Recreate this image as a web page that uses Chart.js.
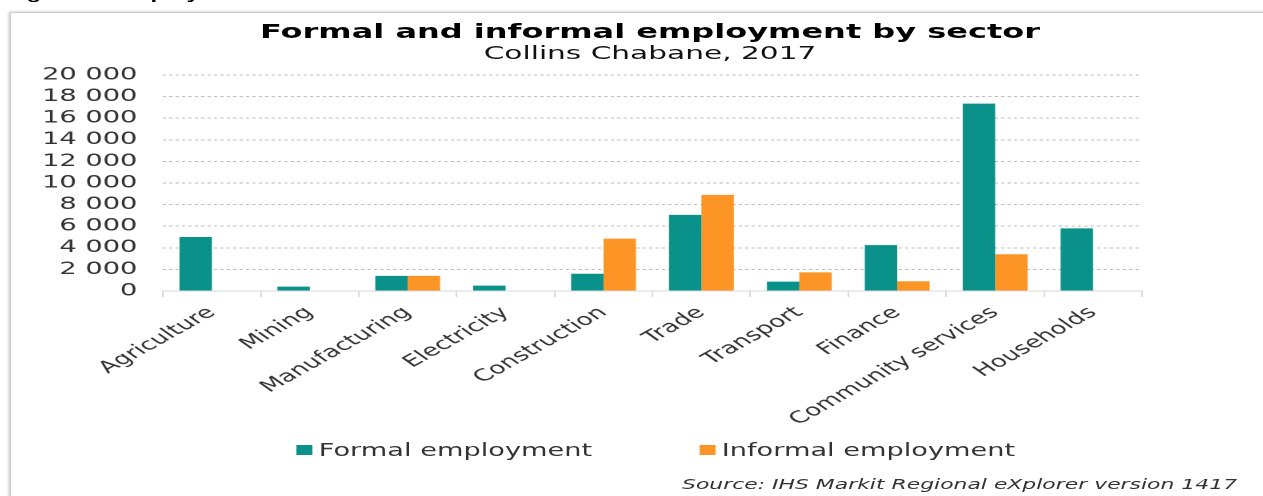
<!DOCTYPE html>
<html>
<head>
<meta charset="utf-8">
<title>Formal and informal employment by sector</title>
<script src="https://cdn.jsdelivr.net/npm/chart.js@4.4.1/dist/chart.umd.min.js"></script>
<style>
    html, body {
        margin: 0;
        padding: 0;
        width: 1263px;
        height: 496px;
        overflow: hidden;
        background: #ffffff;
        font-family: 'DejaVu Sans', Verdana, sans-serif;
    }
    #frame {
        position: absolute;
        left: 10px;
        top: 12px;
        width: 1300px;
        height: 600px;
        border: 1px solid #cdcdcd;
        box-shadow: -1px 0 3px rgba(0, 0, 0, 0.25);
    }
    /* the original picture is stretched sideways, so the whole stage is too */
    #stage {
        position: absolute;
        left: 10px;
        top: 13px;
        width: 800px;
        height: 483px;
        transform: scaleX(1.6);
        transform-origin: 0 0;
    }
    #stage canvas {
        position: absolute;
        left: 0;
        top: 0;
    }
    .caption {
        position: absolute;
        left: -3px;
        top: -27px;
        font: bold 15px/15px 'Liberation Sans', Arial, sans-serif;
        color: #000;
        white-space: nowrap;
    }
    #title {
        position: absolute;
        left: 0;
        top: 8px;
        width: 800px;
        text-align: center;
        font-weight: bold;
        font-size: 20px;
        line-height: 20px;
        color: #000;
    }
    #subtitle {
        position: absolute;
        left: 0;
        top: 28.5px;
        width: 800px;
        text-align: center;
        font-size: 18.5px;
        line-height: 21px;
        color: #111;
    }
    #legend {
        position: absolute;
        left: 179px;
        top: 427px;
        display: flex;
        white-space: nowrap;
        font-size: 17px;
        line-height: 20px;
        color: #333;
    }
    .legend-item {
        display: flex;
        align-items: center;
        margin-right: 67px;
    }
    .legend-box {
        width: 10px;
        height: 10px;
        margin-right: 4px;
    }
    #source {
        position: absolute;
        left: 420px;
        top: 463px;
        font-style: italic;
        font-size: 13.7px;
        line-height: 16px;
        color: #333;
        white-space: nowrap;
    }
</style>
</head>
<body>
<div id="frame"></div>
<div id="stage">
    <div class="caption">Figure 3: Employment</div>
    <div id="title">Formal and informal employment by sector</div>
    <div id="subtitle">Collins Chabane, 2017</div>
    <canvas id="employmentChart" width="800" height="483"></canvas>
    <div id="legend"></div>
    <div id="source">Source: IHS Markit Regional eXplorer version 1417</div>
</div>

<script>
// ==============================================
// DATA
// ==============================================
const sectors = ['Agriculture', 'Mining', 'Manufacturing', 'Electricity', 'Construction',
    'Trade', 'Transport', 'Finance', 'Community services', 'Households'];
const formalEmployment = [5000, 400, 1400, 500, 1600, 7050, 870, 4250, 17350, 5800];
const informalEmployment = [0, 0, 1400, 0, 4850, 8900, 1720, 900, 3400, 0];
const yTickLabels = ['0', '2 000', '4 000', '6 000', '8 000', '10 000',
    '12 000', '14 000', '16 000', '18 000', '20 000'];

const formalColor = '#0a9189';
const informalColor = '#fd9426';

document.addEventListener('DOMContentLoaded', function() {
    initChart();
});

// ==============================================
// CHART
// ==============================================
function initChart() {
    const ctx = document.getElementById('employmentChart');
    if (!ctx || typeof Chart === 'undefined') return;

    Chart.defaults.font.family = "'DejaVu Sans', Verdana, sans-serif";

    try {
        const chart = new Chart(ctx, {
            type: 'bar',
            data: {
                labels: sectors,
                datasets: [{
                    label: 'Formal employment',
                    data: formalEmployment,
                    backgroundColor: formalColor,
                    borderWidth: 0
                }, {
                    label: 'Informal employment',
                    data: informalEmployment,
                    backgroundColor: informalColor,
                    borderWidth: 0
                }]
            },
            options: {
                responsive: false,
                animation: false,
                devicePixelRatio: 2,
                layout: {
                    padding: { top: 62, right: 92.5, bottom: 0, left: 0 }
                },
                datasets: {
                    bar: { categoryPercentage: 0.662, barPercentage: 1 }
                },
                plugins: {
                    legend: { display: false },
                    title: { display: false },
                    tooltip: { enabled: false }
                },
                scales: {
                    x: {
                        grid: { drawOnChartArea: false, color: '#d9d9d9', tickLength: 6 },
                        border: { color: '#d9d9d9' },
                        ticks: {
                            autoSkip: false,
                            minRotation: 41.6,
                            maxRotation: 41.6,
                            padding: 6,
                            color: '#333',
                            font: { size: 16.5 }
                        },
                        afterFit: function(scale) { scale.height = 205; }
                    },
                    y: {
                        min: 0,
                        max: 20000,
                        grid: { color: '#bdbdbd', drawTicks: false },
                        border: { display: false, dash: [2, 2] },
                        ticks: {
                            autoSkip: false,
                            stepSize: 2000,
                            padding: 16,
                            color: '#333',
                            font: { size: 17 },
                            callback: function(value) { return yTickLabels[Math.round(value / 2000)]; }
                        },
                        afterFit: function(scale) { scale.width = 95.6; }
                    }
                }
            }
        });
        buildLegend(chart);
    } catch (error) {
        console.error('Chart initialization error:', error);
    }
}

// ==============================================
// LEGEND
// ==============================================
function buildLegend(chart) {
    const legend = document.getElementById('legend');
    chart.data.datasets.forEach(ds => {
        const item = document.createElement('div');
        item.className = 'legend-item';
        const box = document.createElement('span');
        box.className = 'legend-box';
        box.style.background = ds.backgroundColor;
        const text = document.createElement('span');
        text.textContent = ds.label;
        item.appendChild(box);
        item.appendChild(text);
        legend.appendChild(item);
    });
}
</script>
</body>
</html>
